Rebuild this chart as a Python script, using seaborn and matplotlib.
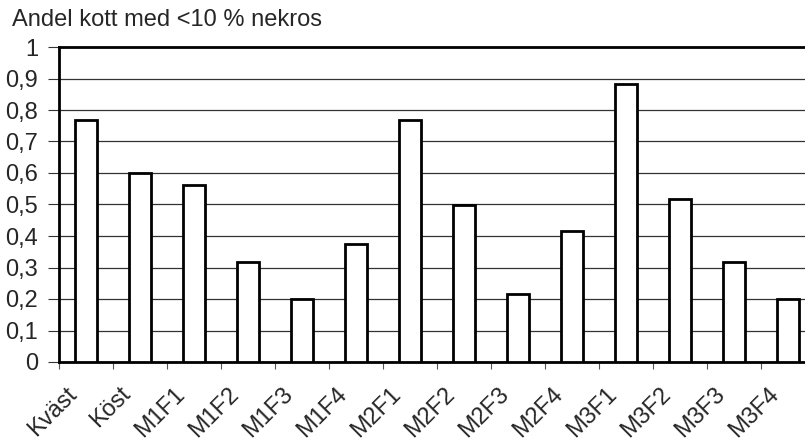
"""
Andel kott med <10 % nekros - bar chart per treatment
"""

import matplotlib
matplotlib.use('Agg')
import matplotlib.pyplot as plt
import matplotlib.transforms as mtransforms
from matplotlib.ticker import FuncFormatter, MultipleLocator
import seaborn as sns

# Data
categories = ['Kväst', 'Köst', 'M1F1', 'M1F2', 'M1F3', 'M1F4', 'M2F1',
              'M2F2', 'M2F3', 'M2F4', 'M3F1', 'M3F2', 'M3F3', 'M3F4']
values = [0.767, 0.600, 0.563, 0.317, 0.200, 0.375, 0.767,
          0.500, 0.217, 0.417, 0.883, 0.517, 0.317, 0.200]
title = 'Andel kott med <10 % nekros'

sns.set_style('white')
plt.rcParams['font.family'] = ['Liberation Sans', 'DejaVu Sans']
plt.rcParams['font.size'] = 17

W, H = 805, 447
fig = plt.figure(figsize=(W / 100, H / 100), dpi=100)
# plot area runs slightly past the right edge, as in the reference
ax = fig.add_axes([59 / W, (H - 362) / H, (815 - 59) / W, (362 - 47) / H])

sns.barplot(x=categories, y=values, ax=ax, color='white', saturation=1,
            edgecolor='black', linewidth=2, width=0.41, zorder=3)

ax.set_xlim(-0.5, len(categories) - 0.5)
ax.set_ylim(0, 1)
ax.yaxis.set_major_locator(MultipleLocator(0.1))
ax.yaxis.set_major_formatter(FuncFormatter(
    lambda v, _: '0' if abs(v) < 1e-9 else ('1' if abs(v - 1) < 1e-9 else f'{v:.1f}'.replace('.', ','))))
ax.grid(axis='y', color='#333333', linewidth=0.9, zorder=0)
ax.set_axisbelow(True)

# tick marks at category borders, labels at the centres
ax.set_xticks([i - 0.5 for i in range(len(categories) + 1)])
ax.set_xticklabels([])
ax.set_xticks(range(len(categories)), minor=True)
ax.set_xticklabels(categories, minor=True, rotation=45, ha='right', va='top')
ax.tick_params(axis='x', which='major', direction='out', length=5, width=0.8,
               color='#555555', bottom=True)
ax.tick_params(axis='x', which='minor', length=0, pad=15, bottom=True)
ax.tick_params(axis='y', direction='out', length=8, width=0.8, color='#333333',
               pad=7, left=True)

shift = mtransforms.ScaledTranslation(-5 / 100, 0, fig.dpi_scale_trans)
for lab in ax.get_xticklabels(minor=True):
    lab.set_transform(lab.get_transform() + shift)

for side in ['left', 'bottom', 'top', 'right']:
    ax.spines[side].set_visible(True)
    ax.spines[side].set_color('black')
    ax.spines[side].set_linewidth(2)

ax.set_xlabel('')
ax.set_ylabel('')
fig.text(12 / W, 1 - 20 / H, title, ha='left', va='center', fontsize=17)

fig.savefig('out.png', dpi=100)
